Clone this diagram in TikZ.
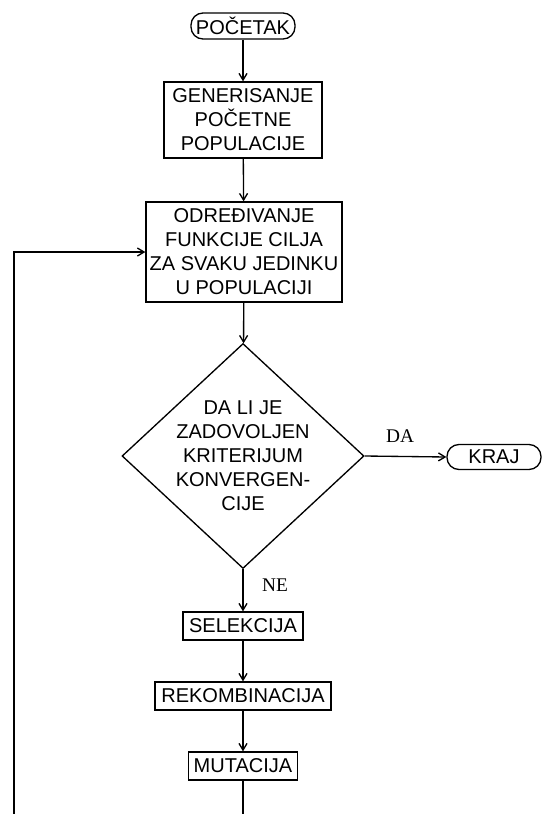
\documentclass[tikz,border=0pt]{standalone}
\usepackage{fontspec}
\newfontfamily\boxfont{Liberation Sans}
\newfontfamily\labelfont{Liberation Serif}
\usetikzlibrary{shapes.geometric, arrows.meta}

\tikzset{
  terminal/.style={draw, line width=1pt, rounded corners=9pt, inner sep=0pt},
  process/.style={draw, line width=1pt, align=center, inner sep=0pt},
  decision/.style={draw, line width=1pt, diamond, aspect=1.08, align=center, inner sep=-15pt},
  answer/.style={font=\labelfont\fontsize{14.5pt}{18pt}\selectfont},
  flow/.style={-{Straight Barb[length=5pt, width=6pt]}, line width=1pt}
}

\begin{document}
\begin{tikzpicture}[x=0.75pt, y=-0.75pt,
  every node/.append style={font=\boxfont\fontsize{15pt}{18pt}\selectfont}]

\clip (0,0) rectangle (543,814);

\node[terminal, minimum width=78pt, minimum height=19.5pt] (start) at (243,26) {POČETAK};

\node[process, minimum width=118.5pt, minimum height=57pt] (gen) at (243,120)
  {GENERISANJE\\POČETNE\\POPULACIJE};

\node[process, minimum width=147pt, minimum height=75pt] (eval) at (244,252)
  {ODREĐIVANJE\\FUNKCIJE CILJA\\ZA SVAKU JEDINKU\\U POPULACIJI};

\node[decision, minimum width=181.5pt, minimum height=168.75pt] (cond) at (243,456)
  {DA LI JE\\ZADOVOLJEN\\KRITERIJUM\\KONVERGEN-\\CIJE};

\node[terminal, minimum width=70.5pt, minimum height=18.75pt] (kraj) at (494,457) {KRAJ};

\node[process, minimum width=90pt, minimum height=21pt] (sel) at (243,626) {SELEKCIJA};
\node[process, minimum width=132pt, minimum height=21pt] (rek) at (243,696) {REKOMBINACIJA};
\node[process, minimum width=82pt, minimum height=21pt] (mut) at (243,766) {MUTACIJA};

\node[answer] (da) at (400,436) {DA};
\node[answer] (ne) at (275,585) {NE};

% main flow
\draw[flow] (start) -- (gen);
\draw[flow] (gen) -- (eval);
\draw[flow] (eval) -- (cond);
\draw[flow] (cond.east) -- (kraj.west);
\draw[flow] (cond.south) -- (sel);
\draw[flow] (sel) -- (rek);
\draw[flow] (rek) -- (mut);

% loop back
\coordinate (loopB) at (14,840);
\draw[flow] (mut.south) |- (loopB) -- (loopB |- eval.west) -- (eval.west);

\end{tikzpicture}
\end{document}
